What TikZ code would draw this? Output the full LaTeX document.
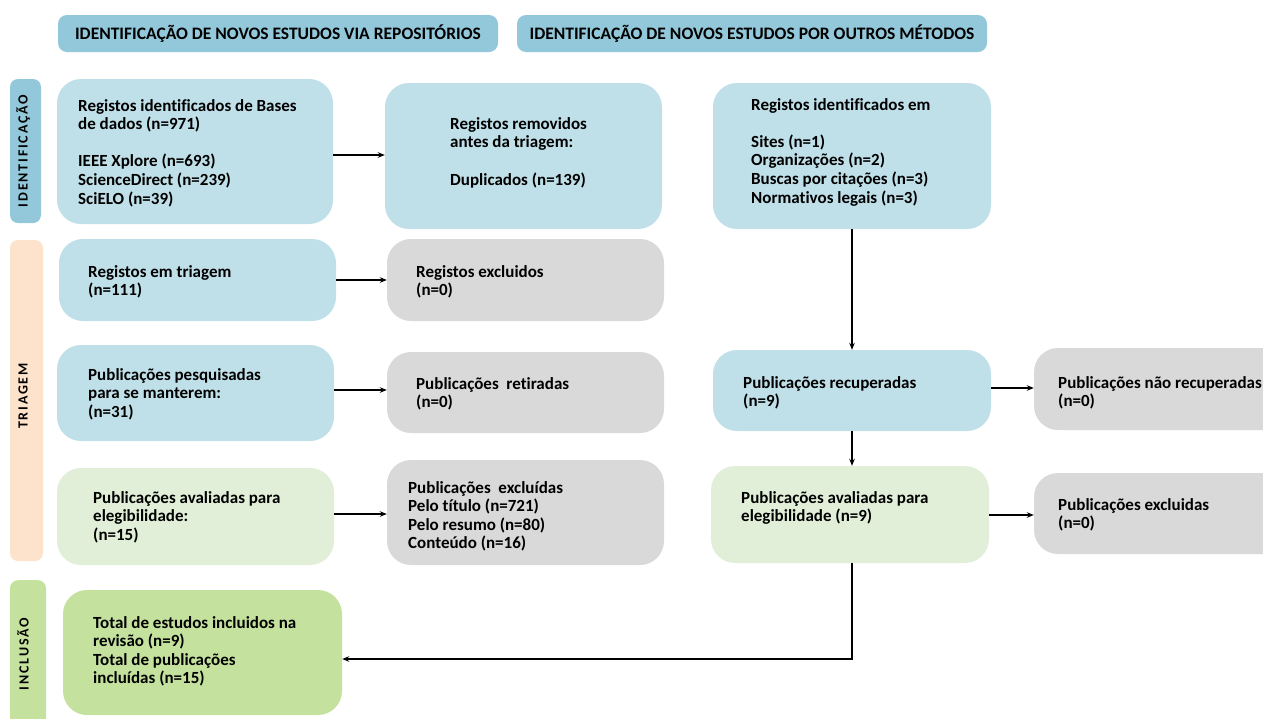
\documentclass[tikz,border=0pt]{standalone}
\usepackage{fontspec}
\setmainfont{Carlito}[Ligatures=NoCommon]
\newfontfamily\barlabelfont{Carlito}[LetterSpace=13, Ligatures=NoCommon]
\usetikzlibrary{arrows.meta}
\definecolor{hdr}{HTML}{92C8DA}
\definecolor{lblue}{HTML}{C0E0E9}
\definecolor{lgray}{HTML}{D9D9D9}
\definecolor{lgreen}{HTML}{E2EFD8}
\definecolor{ggreen}{HTML}{C4E29D}
\definecolor{peach}{HTML}{FDE3CB}
\tikzset{
  pbox/.style={rounded corners=24pt, inner sep=0pt},
  txt/.style={anchor=base west, inner sep=0pt, align=left,
    font=\fontsize{17}{18.6}\selectfont\bfseries},
  hdrbox/.style={fill=hdr, rounded corners=9pt, minimum height=37pt, inner sep=0pt,
    font=\fontsize{17.5}{19}\selectfont\bfseries},
  sidebar/.style={rounded corners=8pt, rotate=90, inner sep=0pt},
  sidetext/.style={rotate=90, inner sep=0pt, font=\barlabelfont\fontsize{14}{16}\selectfont\bfseries},
  arr/.style={-{Stealth[length=7pt,width=5.5pt]}, line width=1.3pt, black}
}
\begin{document}
\begin{tikzpicture}[x=1pt,y=-1pt]
\useasboundingbox (0,0) rectangle (1263,718);
% headers
\node[hdrbox, minimum width=440pt] (h1) at (278,33.5) {IDENTIFICAÇÃO DE NOVOS ESTUDOS VIA REPOSITÓRIOS};
\node[hdrbox, minimum width=470pt] (h2) at (752,33.5) {IDENTIFICAÇÃO DE NOVOS ESTUDOS POR OUTROS MÉTODOS};
% side bars
\node[sidebar, fill=hdr, minimum width=144pt, minimum height=31pt] (sid) at (25.5,151) {};
\node[sidetext] (sidl) at (23,151) {IDENTIFICAÇÃO};
\node[sidebar, fill=peach, minimum width=321pt, minimum height=33pt] (str) at (26.5,400.5) {};
\node[sidetext] (strl) at (23,396) {TRIAGEM};
\node[sidebar, fill=ggreen, minimum width=150pt, minimum height=36pt, anchor=east] (sin) at (28,580) {};
\node[sidetext] (sinl) at (23,654) {INCLUSÃO};
% boxes
\node[pbox, fill=lblue, minimum width=276pt, minimum height=145pt] (A) at (195,151.5) {};
\node[pbox, fill=lblue, minimum width=277pt, minimum height=146pt] (B) at (523.5,156) {};
\node[pbox, fill=lblue, minimum width=278pt, minimum height=146pt] (C) at (852,156) {};
\node[pbox, fill=lblue, minimum width=277pt, minimum height=82pt] (D) at (197.5,280) {};
\node[pbox, fill=lgray, minimum width=277pt, minimum height=82pt] (E) at (525.5,280) {};
\node[pbox, fill=lblue, minimum width=277pt, minimum height=96pt] (F) at (195.5,393) {};
\node[pbox, fill=lgray, minimum width=277pt, minimum height=81pt] (G) at (525.5,392.5) {};
\node[pbox, fill=lgreen, minimum width=277pt, minimum height=97pt] (H) at (195.5,516.5) {};
\node[pbox, fill=lgray, minimum width=277pt, minimum height=105pt] (I) at (525.5,512.5) {};
\node[pbox, fill=lblue, minimum width=278pt, minimum height=81pt] (J) at (852,390.5) {};
\node[pbox, fill=lgray, minimum width=277pt, minimum height=82pt] (K) at (1172.5,389) {};
\node[pbox, fill=lgreen, minimum width=278pt, minimum height=97pt] (L) at (850,514.5) {};
\node[pbox, fill=lgray, minimum width=277pt, minimum height=81pt] (M) at (1172.5,513.5) {};
\node[pbox, fill=ggreen, minimum width=279pt, minimum height=125pt] (N) at (202.5,652.5) {};
% texts (anchored at the baseline of their last line)
\node[txt] (At) at (78,204) {Registos identificados de Bases\\de dados (n=971)\\[18.6pt]IEEE Xplore (n=693)\\ScienceDirect (n=239)\\SciELO (n=39)};
\node[txt] (Bt) at (450,185) {Registos removidos\\antes da triagem:\\[18.6pt]Duplicados (n=139)};
\node[txt] (Ct) at (751,203) {Registos identificados em\\[18.6pt]Sites (n=1)\\Organizações (n=2)\\Buscas por citações (n=3)\\Normativos legais (n=3)};
\node[txt] (Dt) at (88,295.6) {Registos em triagem\\(n=111)};
\node[txt] (Et) at (416,295.6) {Registos excluidos\\(n=0)};
\node[txt] (Ft) at (88,417.2) {Publicações pesquisadas\\para se manterem:\\(n=31)};
\node[txt] (Gt) at (416,407.6) {Publicações\ \ retiradas\\(n=0)};
\node[txt] (Ht) at (93,540.2) {Publicações avaliadas para\\elegibilidade:\\(n=15)};
\node[txt] (It) at (408,548.8) {Publicações\ \ excluídas\\Pelo título (n=721)\\Pelo resumo (n=80)\\Conteúdo (n=16)};
\node[txt] (Jt) at (743,406.6) {Publicações recuperadas\\(n=9)};
\node[txt] (Kt) at (1058,406.6) {Publicações não recuperadas\\(n=0)};
\node[txt] (Lt) at (741,521.6) {Publicações avaliadas para\\elegibilidade (n=9)};
\node[txt] (Mt) at (1058,528.6) {Publicações excluidas\\(n=0)};
\node[txt] (Nt) at (93,683.8) {Total de estudos incluidos na\\revisão (n=9)\\Total de publicações\\incluídas (n=15)};
% arrows
\draw[arr] (A.east |- 0,155) -- (B.west |- 0,155);
\draw[arr] (D.east) -- (E.west);
\draw[arr] (F.east |- 0,390) -- (G.west |- 0,390);
\draw[arr] (H.east |- 0,514) -- (I.west |- 0,514);
\draw[arr] (C.south) -- (J.north);
\draw[arr] (J.east |- 0,388) -- (K.west |- 0,388);
\draw[arr] (J.south) -- (J.south |- L.north);
\draw[arr] (L.east |- 0,515) -- (M.west |- 0,515);
\draw[arr] (L.south -| J.south) |- (N.east |- 0,659);
\end{tikzpicture}
\end{document}
